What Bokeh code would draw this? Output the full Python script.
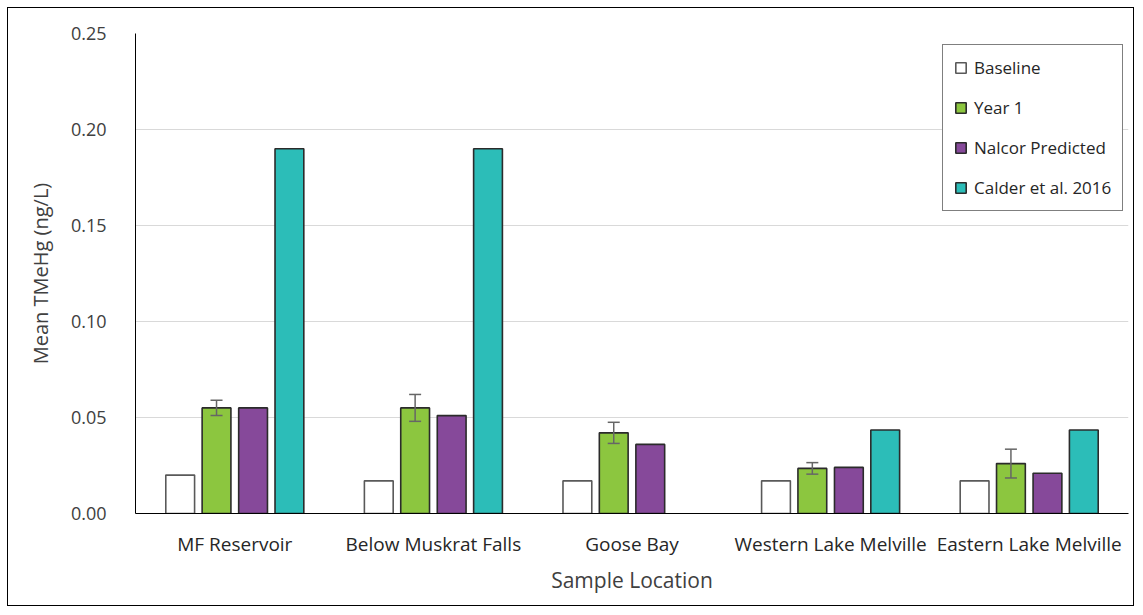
from bokeh.plotting import figure
from bokeh.models import (ColumnDataSource, FactorRange, Range1d, Whisker, TeeHead,
                          NumeralTickFormatter, Legend, LegendItem, FixedTicker)
from bokeh.transform import dodge
from bokeh.embed import file_html
from bokeh.resources import INLINE

locations = ["MF Reservoir", "Below Muskrat Falls", "Goose Bay",
             "Western Lake Melville", "Eastern Lake Melville"]
baseline = [0.020, 0.017, 0.017, 0.017, 0.017]
year1 = [0.055, 0.055, 0.042, 0.0235, 0.026]
year1_err = [0.004, 0.007, 0.0055, 0.003, 0.0075]
nalcor = [0.055, 0.051, 0.036, 0.024, 0.021]
calder = [0.190, 0.190, 0.0, 0.0435, 0.0435]
series_names = ["Baseline", "Year 1", "Nalcor Predicted", "Calder et al. 2016"]
y_ticks = [0.0, 0.05, 0.10, 0.15, 0.20, 0.25]

FONT = "Open Sans"

src = ColumnDataSource(dict(
    loc=locations, baseline=baseline, year1=year1, nalcor=nalcor,
    calder=calder,
    upper=[v + e for v, e in zip(year1, year1_err)],
    lower=[v - e for v, e in zip(year1, year1_err)],
))
calder_src = ColumnDataSource(dict(
    loc=[l for l, c in zip(locations, calder) if c > 0],
    calder=[c for c in calder if c > 0],
))

p = figure(width=1127, height=599, x_range=FactorRange(*locations, range_padding=0),
           y_range=Range1d(0, 0.25), output_backend="svg", toolbar_location=None,
           min_border_left=127, min_border_right=7, min_border_top=25, min_border_bottom=94,
           styles={"border": "1px solid #000000", "margin": "7px"})
p.outline_line_color = None

W = 0.145
r_base = p.vbar(x=dodge("loc", -0.275, range=p.x_range), top="baseline", width=W, source=src,
                fill_color="white", line_color="#595959", line_width=1.6)
r_y1 = p.vbar(x=dodge("loc", -0.092, range=p.x_range), top="year1", width=W, source=src,
              fill_color="#8CC63F", line_color="#2b2b2b", line_width=1.6)
r_nal = p.vbar(x=dodge("loc", 0.092, range=p.x_range), top="nalcor", width=W, source=src,
               fill_color="#86499A", line_color="#2b2b2b", line_width=1.6)
r_cal = p.vbar(x=dodge("loc", 0.275, range=p.x_range), top="calder", width=W, source=calder_src,
               fill_color="#2CBDB8", line_color="#2b2b2b", line_width=1.6)

wh = Whisker(base=dodge("loc", -0.092, range=p.x_range), upper="upper", lower="lower",
             source=src, line_color="#666666", line_width=1.5, level="overlay",
             upper_head=TeeHead(size=12, line_color="#666666", line_width=1.5),
             lower_head=TeeHead(size=12, line_color="#666666", line_width=1.5))
p.add_layout(wh)

# axes
p.yaxis.ticker = FixedTicker(ticks=y_ticks)
p.yaxis.formatter = NumeralTickFormatter(format="0.00")
p.yaxis.major_tick_line_color = None
p.yaxis.minor_tick_line_color = None
p.yaxis.axis_line_color = "#000000"
p.yaxis.major_label_standoff = 23
p.yaxis.major_label_text_font = FONT
p.yaxis.major_label_text_font_size = "18px"
p.yaxis.major_label_text_color = "#404040"
p.yaxis.axis_label = "Mean TMeHg (ng/L)"
p.yaxis.axis_label_text_font = FONT
p.yaxis.axis_label_text_font_size = "20px"
p.yaxis.axis_label_text_font_style = "normal"
p.yaxis.axis_label_text_color = "#404040"
p.yaxis.axis_label_standoff = 14

p.xaxis.major_tick_line_color = None
p.xaxis.minor_tick_line_color = None
p.xaxis.axis_line_color = "#000000"
p.xaxis.major_label_standoff = 11
p.xaxis.major_label_text_font = FONT
p.xaxis.major_label_text_font_size = "19px"
p.xaxis.major_label_text_color = "#262626"
p.xaxis.axis_label = "Sample Location"
p.xaxis.axis_label_text_font = FONT
p.xaxis.axis_label_text_font_size = "21px"
p.xaxis.axis_label_text_font_style = "normal"
p.xaxis.axis_label_text_color = "#404040"
p.xaxis.axis_label_standoff = 6

p.xgrid.grid_line_color = None
p.ygrid.grid_line_color = "#d9d9d9"
p.ygrid.ticker = FixedTicker(ticks=y_ticks[1:])

legend = Legend(items=[LegendItem(label=n, renderers=[r]) for n, r in
                       zip(series_names, [r_base, r_y1, r_nal, r_cal])],
                location=(807, 302))
legend.border_line_color = "#000000"
legend.border_line_width = 1
legend.background_fill_alpha = 1
legend.label_text_font = FONT
legend.label_text_font_size = "17px"
legend.label_text_color = "#262626"
legend.glyph_width = 13
legend.glyph_height = 13
legend.label_height = 22
legend.spacing = 17
legend.padding = 11
legend.label_standoff = 7
legend.margin = 0
p.add_layout(legend)

open("out.html", "w").write(file_html(p, INLINE))
